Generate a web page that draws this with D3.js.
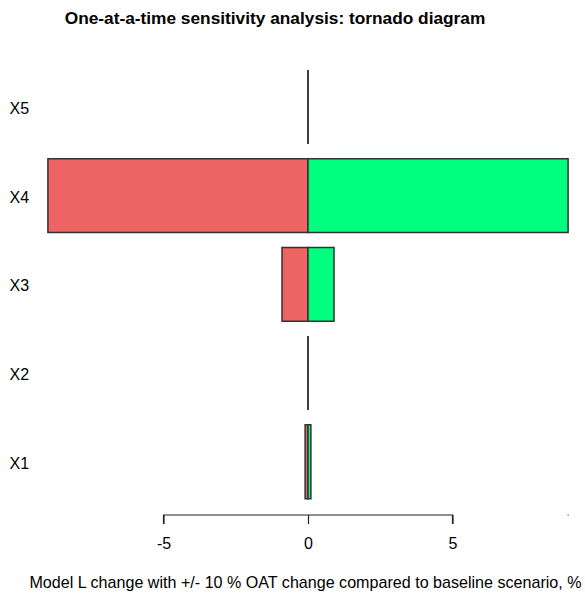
<!DOCTYPE html>
<html>
<head>
<meta charset="utf-8">
<script src="https://cdn.jsdelivr.net/npm/d3@7"></script>
<style>
  html, body { margin: 0; padding: 0; background: #fff; }
  svg { display: block; font-family: "Liberation Sans", Arial, sans-serif; }
</style>
</head>
<body>
<svg id="chart" width="585" height="595"></svg>
<script>
// Parameters, listed top to bottom as drawn
const factors = ["X5", "X4", "X3", "X2", "X1"];
// Output change (%) when each factor is lowered / raised by 10 %
const lowChange  = [0, -9.0, -0.9, 0, -0.1];
const highChange = [0,  9.0,  0.9, 0,  0.1];
const tickValues = [-5, 0, 5];

const titleText = "One-at-a-time sensitivity analysis: tornado diagram";
const xLabelText = "Model L change with +/- 10 % OAT change compared to baseline scenario, %";

const lowColor = "#EE6363";
const highColor = "#00FF7F";
const edgeColor = "#333333";

const svg = d3.select("#chart");

const x = d3.scaleLinear().domain([-5, 5]).range([163.5, 452.5]);
const y = d3.scaleBand()
  .domain(factors)
  .range([62.6, 506.1])
  .paddingInner(1 / 6)
  .paddingOuter(1 / 12);

const rows = factors.map((f, i) => ({ f, lo: lowChange[i], hi: highChange[i] }));

// Title
svg.append("text")
  .attr("x", 275).attr("y", 23.5)
  .attr("text-anchor", "middle")
  .attr("font-weight", "bold")
  .attr("font-size", 17.3)
  .attr("fill", "#000")
  .text(titleText);

// Bars as closed paths so zero-width bars still show their outline
const g = svg.append("g");
rows.forEach(d => {
  const segs = [
    { a: d.lo, b: 0, c: lowColor },
    { a: 0, b: d.hi, c: highColor }
  ];
  segs.forEach(s => {
    const x0 = x(Math.min(s.a, s.b)), x1 = x(Math.max(s.a, s.b));
    const y0 = y(d.f), y1 = y(d.f) + y.bandwidth();
    g.append("path")
      .attr("d", `M${x0},${y0}H${x1}V${y1}H${x0}Z`)
      .attr("fill", s.c)
      .attr("stroke", edgeColor)
      .attr("stroke-width", 1.5);
  });
});

// Factor labels
svg.append("g").selectAll("text").data(factors).join("text")
  .attr("x", 9.5)
  .attr("y", d => y(d) + y.bandwidth() / 2 + 7)
  .attr("font-size", 16)
  .attr("fill", "#000")
  .text(d => d);

// Bottom axis
const axisY = 515;
const axis = d3.axisBottom(x).tickValues(tickValues).tickSize(9).tickPadding(14)
  .tickFormat(d3.format("d"));
const ax = svg.append("g").attr("transform", `translate(0,${axisY})`).call(axis);
ax.select(".domain").attr("stroke", "#222").attr("stroke-width", 1.2)
  .attr("d", `M${x(-5)},9V0H${x(5)}V9`);
ax.selectAll(".tick line").attr("stroke", "#222").attr("stroke-width", 1.2);
ax.selectAll(".tick text")
  .attr("font-size", 16)
  .attr("font-family", "Liberation Sans, Arial, sans-serif")
  .attr("fill", "#000")
  .text(d => d < 0 ? "-" + Math.abs(d) : d);

// small mark at the far end of the axis line level
svg.append("rect")
  .attr("x", x(9) - 0.6).attr("y", axisY - 0.6)
  .attr("width", 1.2).attr("height", 1.2)
  .attr("fill", "#555");

// Axis title
svg.append("text")
  .attr("x", 305.5).attr("y", 588)
  .attr("text-anchor", "middle")
  .attr("font-size", 16.1)
  .attr("fill", "#000")
  .text(xLabelText);
</script>
</body>
</html>
